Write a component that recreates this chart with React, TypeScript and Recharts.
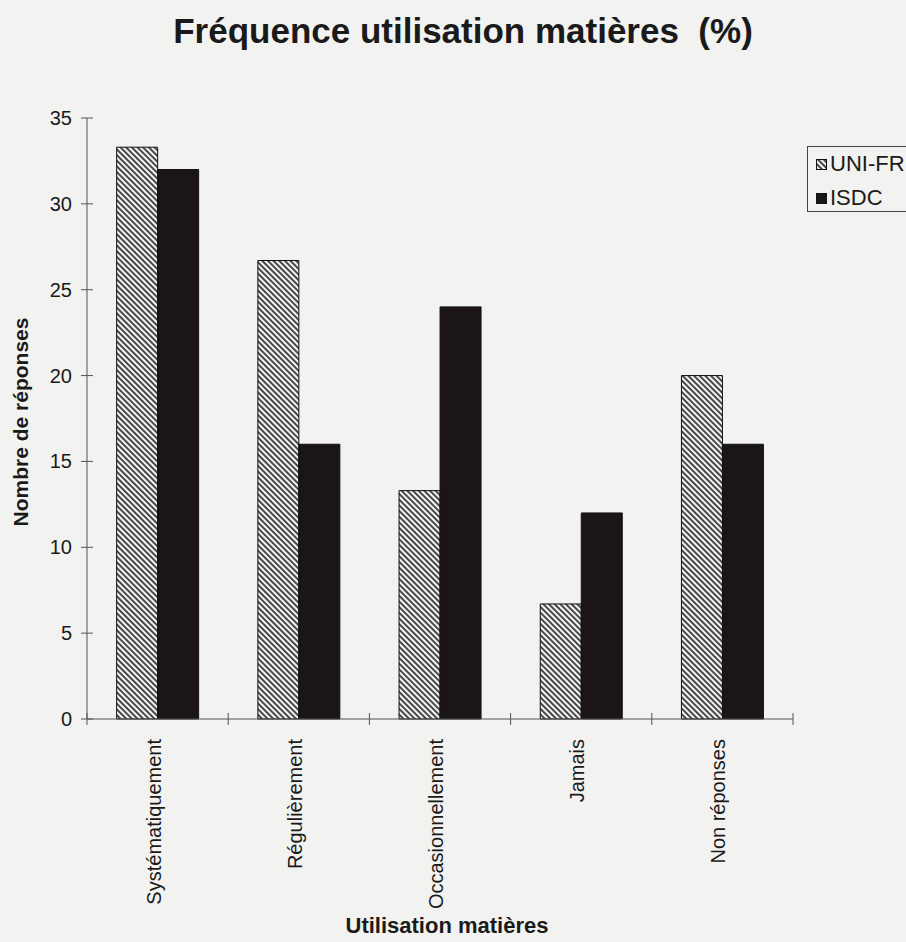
import React from 'react';
import { BarChart, Bar, XAxis, YAxis } from 'recharts';

const categories = ['Systématiquement', 'Régulièrement', 'Occasionnellement', 'Jamais', 'Non réponses'];
const uniFr = [33.3, 26.7, 13.3, 6.7, 20.0];
const isdc = [32.0, 16.0, 24.0, 12.0, 16.0];
const yTicks = [0, 5, 10, 15, 20, 25, 30, 35];
const seriesNames = ['UNI-FR', 'ISDC'];

const data = categories.map((name, i) => ({ name, uniFr: uniFr[i], isdc: isdc[i] }));

const W = 906;
const H = 942;
const AXIS_X = 87;
const PLOT_RIGHT = 793;
const PLOT_BOTTOM = 719;
const BAND = (PLOT_RIGHT - AXIS_X) / categories.length;
const TEXT = '#1a1a1a';
const AXIS = '#555';
const FONT = 'Arial, "Liberation Sans", sans-serif';

const HatchDefs = ({ id }: { id: string }) => (
  <defs>
    <pattern id={id} patternUnits="userSpaceOnUse" width="4" height="4" patternTransform="rotate(-45)">
      <rect x="0" y="0" width="4" height="4" fill="#f4f4f2" />
      <line x1="1" y1="-1" x2="1" y2="6" stroke="#2a2a2a" strokeWidth="1.7" />
    </pattern>
  </defs>
);

const YTick = (props: any) => {
  const { y, payload } = props;
  return (
    <g>
      <line x1={AXIS_X - 6} x2={AXIS_X + 6} y1={y} y2={y} stroke={AXIS} strokeWidth={1} />
      <text x={AXIS_X - 15} y={y} textAnchor="end" dominantBaseline="central" fontSize={20} fill={TEXT} fontFamily={FONT}>
        {payload.value}
      </text>
    </g>
  );
};

const XTick = (props: any) => {
  const { x, index, payload } = props;
  const ty = 739;
  return (
    <g>
      <line x1={x - BAND / 2} x2={x - BAND / 2} y1={PLOT_BOTTOM - 6} y2={PLOT_BOTTOM + 6} stroke={AXIS} strokeWidth={1} />
      {index === categories.length - 1 && (
        <line x1={x + BAND / 2} x2={x + BAND / 2} y1={PLOT_BOTTOM - 6} y2={PLOT_BOTTOM + 6} stroke={AXIS} strokeWidth={1} />
      )}
      <text
        x={x}
        y={ty}
        dy={3}
        transform={`rotate(-90, ${x}, ${ty})`}
        textAnchor="end"
        fontSize={20}
        fill={TEXT}
        fontFamily={FONT}
      >
        {payload.value}
      </text>
    </g>
  );
};

export default function App() {
  return (
    <div
      style={{
        position: 'absolute',
        left: 0,
        top: 0,
        width: W,
        height: H,
        overflow: 'hidden',
        background: '#f2f2f0',
        fontFamily: FONT,
        color: TEXT,
      }}
    >
      <svg width="0" height="0" style={{ position: 'absolute' }}>
        <HatchDefs id="hatch" />
      </svg>
      <div
        style={{
          position: 'absolute',
          left: 463,
          top: 13,
          transform: 'translateX(-50%)',
          fontSize: 35,
          lineHeight: '35px',
          fontWeight: 'bold',
          whiteSpace: 'pre',
        }}
      >
        {'Fréquence utilisation matières  (%)'}
      </div>
      <BarChart
        width={W}
        height={H}
        data={data}
        margin={{ top: 118, right: W - PLOT_RIGHT, bottom: 8, left: 0 }}
        barCategoryGap="21%"
        barGap={0}
      >
        <XAxis
          dataKey="name"
          height={215}
          interval={0}
          tickLine={false}
          axisLine={{ stroke: AXIS, strokeWidth: 1 }}
          tick={<XTick />}
        />
        <YAxis
          width={AXIS_X}
          domain={[0, 35]}
          ticks={yTicks}
          interval={0}
          tickLine={false}
          axisLine={{ stroke: AXIS, strokeWidth: 1 }}
          tick={<YTick />}
        />
        <Bar dataKey="uniFr" name={seriesNames[0]} fill="url(#hatch)" stroke="#111" strokeWidth={1} isAnimationActive={false} />
        <Bar dataKey="isdc" name={seriesNames[1]} fill="#1b1515" stroke="#111" strokeWidth={1} isAnimationActive={false} />
      </BarChart>
      <div
        style={{
          position: 'absolute',
          left: 20,
          top: 422,
          transform: 'translate(-50%, -50%) rotate(-90deg)',
          fontSize: 21,
          lineHeight: '21px',
          fontWeight: 'bold',
          whiteSpace: 'nowrap',
        }}
      >
        Nombre de réponses
      </div>
      <div
        style={{
          position: 'absolute',
          left: 447,
          top: 914,
          transform: 'translateX(-50%)',
          fontSize: 22,
          lineHeight: '24px',
          fontWeight: 'bold',
          whiteSpace: 'nowrap',
        }}
      >
        Utilisation matières
      </div>
      <div
        style={{
          position: 'absolute',
          left: 807,
          top: 146,
          width: 130,
          height: 66,
          border: '1px solid #444',
          boxSizing: 'border-box',
        }}
      >
        {seriesNames.map((n, i) => (
          <div
            key={n}
            style={{
              position: 'absolute',
              left: 8,
              top: i === 0 ? 6 : 40,
              display: 'flex',
              alignItems: 'center',
              fontSize: 22,
              lineHeight: '22px',
              whiteSpace: 'nowrap',
            }}
          >
            <svg width="11" height="11" style={{ marginRight: 3 }}>
              <rect
                x="0.5"
                y="0.5"
                width="10"
                height="10"
                fill={i === 0 ? 'url(#hatch)' : '#1b1515'}
                stroke="#111"
                strokeWidth="1"
              />
            </svg>
            {n}
          </div>
        ))}
      </div>
    </div>
  );
}
